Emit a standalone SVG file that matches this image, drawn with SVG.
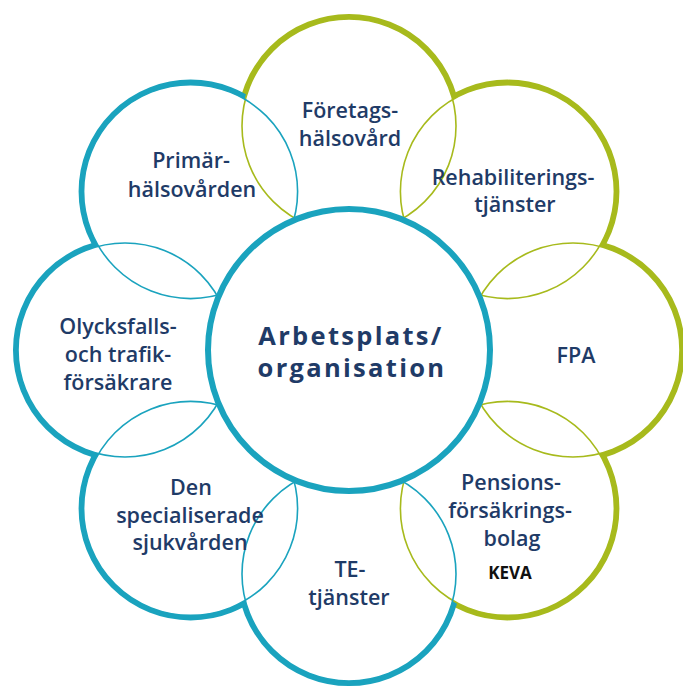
<svg xmlns="http://www.w3.org/2000/svg" width="683" height="686" viewBox="0 0 683 686">
  <style>
    .bg { fill: #ffffff; }
    .thick { fill: none; stroke-width: 10; }
    .thin { fill: none; stroke-width: 1.6; }
    .cover { fill: #ffffff; stroke: none; }
    .teal { stroke: #1aa3be; }
    .green { stroke: #a7ba1c; }
    .hub { fill: #ffffff; stroke: #1aa3be; stroke-width: 6; }
    .lbl { font-family: "Open Sans", "Liberation Sans", sans-serif; font-size: 21.5px; font-weight: 600; fill: #1f3b67; text-anchor: middle; }
    .hubtxt { font-family: "Open Sans", "Liberation Sans", sans-serif; font-size: 25.5px; font-weight: 700; fill: #1f3b67; text-anchor: middle; letter-spacing: 2.3px; }
    .note { font-family: "Open Sans", "Liberation Sans", sans-serif; font-size: 17px; font-weight: 700; fill: #111111; text-anchor: middle; }
  </style>
  <defs>
    <circle id="c-foretag" cx="349" cy="126" r="107"/>
    <circle id="c-rehab" cx="507.4" cy="191.6" r="107"/>
    <circle id="c-fpa" cx="573" cy="350" r="107"/>
    <circle id="c-pension" cx="507.4" cy="508.4" r="107"/>
    <circle id="c-te" cx="349" cy="574" r="107"/>
    <circle id="c-spec" cx="190.6" cy="508.4" r="107"/>
    <circle id="c-olycks" cx="125" cy="350" r="107"/>
    <circle id="c-primar" cx="190.6" cy="191.6" r="107"/>
  </defs>

  <rect class="bg" x="0" y="0" width="683" height="686"/>

  <!-- ring outlines: heavy outer rims, white disks, then fine lines where rings overlap -->
  <g id="connectors">
    <g id="rims">
      <use href="#c-foretag" class="thick green"/>
      <use href="#c-rehab" class="thick green"/>
      <use href="#c-fpa" class="thick green"/>
      <use href="#c-pension" class="thick green"/>
      <use href="#c-te" class="thick teal"/>
      <use href="#c-spec" class="thick teal"/>
      <use href="#c-olycks" class="thick teal"/>
      <use href="#c-primar" class="thick teal"/>
    </g>
    <g id="disks">
      <use href="#c-foretag" class="cover"/>
      <use href="#c-rehab" class="cover"/>
      <use href="#c-fpa" class="cover"/>
      <use href="#c-pension" class="cover"/>
      <use href="#c-te" class="cover"/>
      <use href="#c-spec" class="cover"/>
      <use href="#c-olycks" class="cover"/>
      <use href="#c-primar" class="cover"/>
    </g>
    <g id="fine-lines">
      <use href="#c-foretag" class="thin green"/>
      <use href="#c-rehab" class="thin green"/>
      <use href="#c-fpa" class="thin green"/>
      <use href="#c-pension" class="thin green"/>
      <use href="#c-te" class="thin teal"/>
      <use href="#c-spec" class="thin teal"/>
      <use href="#c-olycks" class="thin teal"/>
      <use href="#c-primar" class="thin teal"/>
    </g>
  </g>

  <g id="node-foretag">
    <text class="lbl" x="350" y="118">Företags-</text>
    <text class="lbl" x="350" y="146">hälsovård</text>
  </g>
  <g id="node-rehab">
    <text class="lbl" x="513" y="185">Rehabiliterings-</text>
    <text class="lbl" x="515" y="212">tjänster</text>
  </g>
  <g id="node-fpa">
    <text class="lbl" x="576" y="363">FPA</text>
  </g>
  <g id="node-pension">
    <text class="lbl" x="511" y="490">Pensions-</text>
    <text class="lbl" x="510" y="518">försäkrings-</text>
    <text class="lbl" x="512" y="546">bolag</text>
    <text class="note" x="510" y="579">KEVA</text>
  </g>
  <g id="node-te">
    <text class="lbl" x="350" y="577">TE-</text>
    <text class="lbl" x="349" y="605">tjänster</text>
  </g>
  <g id="node-spec">
    <text class="lbl" x="191" y="495">Den</text>
    <text class="lbl" x="190" y="523">specialiserade</text>
    <text class="lbl" x="190" y="550">sjukvården</text>
  </g>
  <g id="node-olycks">
    <text class="lbl" x="118" y="334">Olycksfalls-</text>
    <text class="lbl" x="118" y="362">och trafik-</text>
    <text class="lbl" x="118" y="390">försäkrare</text>
  </g>
  <g id="node-primar">
    <text class="lbl" x="191" y="168">Primär-</text>
    <text class="lbl" x="192" y="197">hälsovården</text>
  </g>

  <g id="node-hub">
    <circle class="hub" cx="349" cy="350" r="141"/>
    <text class="hubtxt" x="351" y="345">Arbetsplats/</text>
    <text class="hubtxt" x="352" y="377">organisation</text>
  </g>
</svg>
